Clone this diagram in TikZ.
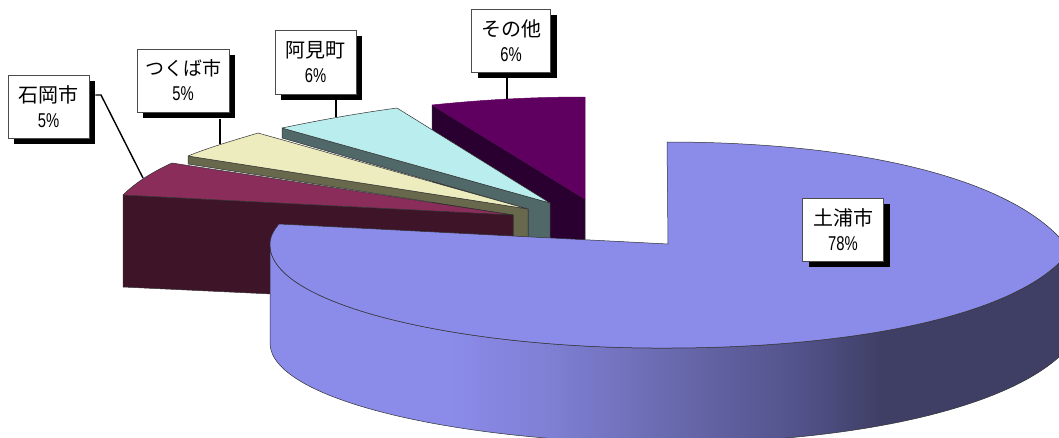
\documentclass[tikz,border=0pt]{standalone}
\usepackage{graphicx}
\usepackage{fontspec}
\setmainfont{Noto Sans CJK JP}
\newfontfamily\latinnum{Liberation Sans}
\usetikzlibrary{shadows}
\definecolor{sA}{HTML}{8B8BEA}
\definecolor{sB}{HTML}{7F7FD4}
\definecolor{sC}{HTML}{6464A6}
\definecolor{sD}{HTML}{52528A}
\definecolor{sE}{HTML}{3F3F66}
\definecolor{mainTop}{HTML}{8B8BEA}
\definecolor{purTop}{HTML}{5F0060}
\definecolor{purSide}{HTML}{2A0030}
\definecolor{aquaTop}{HTML}{BAEDED}
\definecolor{aquaSide}{HTML}{506868}
\definecolor{yelTop}{HTML}{ECECBE}
\definecolor{yelSide}{HTML}{68684C}
\definecolor{marTop}{HTML}{8B2D5A}
\definecolor{marSide}{HTML}{3E1428}
\definecolor{edgeLine}{HTML}{303030}
\pgfdeclarehorizontalshading{mainside}{100bp}{color(0bp)=(sA);color(25bp)=(sA);color(36.4bp)=(sA);color(42.7bp)=(sB);color(52.2bp)=(sC);color(58.6bp)=(sD);color(63.7bp)=(sE);color(75bp)=(sE);color(100bp)=(sE)}
\newcommand{\lbl}[3][20]{{\fontsize{#1}{22}\selectfont #2}\\[8.5pt]{\latinnum\fontsize{20}{20}\selectfont\scalebox{.74}[1]{#3}}}
\tikzset{
  face/.style={draw=edgeLine,line width=.5pt,line join=round},
  leader/.style={draw=black,line width=1.4pt},
  callout/.style={draw=black!70,line width=.5pt,fill=white,align=center,inner sep=0pt,
    minimum height=63.5pt,
    drop shadow={shadow xshift=6pt,shadow yshift=-6pt,fill=black,opacity=1}}
}
\begin{document}
\begin{tikzpicture}[x=1pt,y=-1pt]
\useasboundingbox (0,0) rectangle (1059,437);
\begin{scope}
\clip (0,0) rectangle (1059,437);
% purple slice
\path[face,fill=purSide] (432,105) -- (585,199) -- (585,242) -- (432,242) -- cycle;
\path[face,fill=purTop,draw=purTop] (585,199) -- (432,105) .. controls (480,100) and (530,97) .. (585,97) -- cycle;
% aqua slice
\path[face,fill=aquaSide] (282,128) -- (550,203) -- (550,242) -- (528,242) -- (528,209) -- (282,138) -- cycle;
\path[face,fill=aquaTop] (550,203) -- (282,128) .. controls (320,120) and (360,113) .. (397,108) -- cycle;
% yellow slice
\path[face,fill=yelSide] (188,156) -- (528,209) -- (528,242) -- (513,242) -- (513,215) -- (188,164) -- cycle;
\path[face,fill=yelTop] (528,209) -- (188,156) .. controls (210,147) and (235,140) .. (258,133) -- cycle;
% maroon slice
\path[face,fill=marSide] (123,195) -- (513,215) -- (513,242) -- (400,300) -- (123,287) -- cycle;
\path[face,fill=marTop] (513,215) -- (123,195) .. controls (135,183) and (152,172) .. (172,163) -- cycle;
% main slice side
\path[face,shading=mainside] (270,245) .. controls (270,305) and (460,349) .. (667,348)
  .. controls (840,348) and (1000,320) .. (1059,263) -- (1059,357)
  .. controls (1000,410) and (850,443) .. (667,443)
  .. controls (460,443) and (270,400) .. (270,343) -- cycle;
% main slice top
\path[face,fill=mainTop] (668,244) -- (667,142) .. controls (850,142) and (1000,175) .. (1059,237)
  .. controls (1064,245) and (1064,255) .. (1059,263)
  .. controls (1000,320) and (840,348) .. (667,348)
  .. controls (460,349) and (270,305) .. (270,245)
  .. controls (270,236) and (274,230) .. (279,224) -- cycle;
\end{scope}
% leader anchors
\coordinate (lIshi) at (143,178);
\coordinate (lIshiBend) at (101,95);
\coordinate (lTsuku) at (220,144);
\coordinate (lAmi) at (336,117);
\coordinate (lSono) at (507,99);
% callouts
\node[callout,minimum width=81pt] (ishi) at (48.5,106.5) {\lbl{石岡市}{5\%}};
\node[callout,minimum width=92pt] (tsuku) at (183,80.5) {\lbl[19]{つくば市}{5\%}};
\node[callout,minimum width=81pt] (ami) at (315.5,62) {\lbl{阿見町}{6\%}};
\node[callout,minimum width=79pt] (sono) at (511,40.5) {\lbl{その他}{6\%}};
\node[callout,minimum width=81pt] (tsuchi) at (843,229.5) {\lbl{土浦市}{78\%}};
% leaders
\draw[leader] (ishi.east) ++(6,-11.5) -- (lIshiBend) -- (lIshi);
\draw[leader] (tsuku.south) ++(37,6) -- (lTsuku);
\draw[leader] (ami.south) ++(20.5,6) -- (lAmi);
\draw[leader] (sono.south) ++(-4,0) -- (lSono);
\end{tikzpicture}
\end{document}
